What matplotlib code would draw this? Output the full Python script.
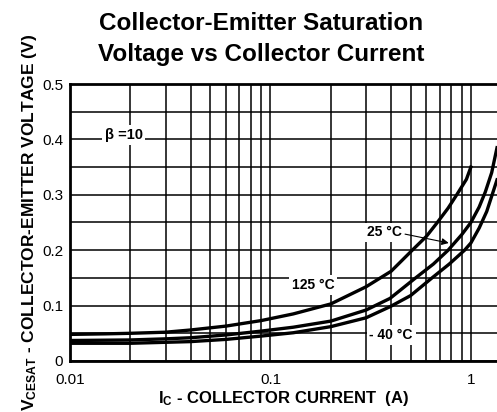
import numpy as np
import matplotlib
matplotlib.use("Agg")
import matplotlib.pyplot as plt
from matplotlib.ticker import FixedLocator, FixedFormatter, MultipleLocator, NullFormatter, LogLocator

plt.rcParams['font.family'] = ['Liberation Sans', 'DejaVu Sans']
plt.rcParams['mathtext.fontset'] = 'custom'
plt.rcParams['mathtext.bf'] = 'Liberation Sans:bold'
plt.rcParams['mathtext.rm'] = 'Liberation Sans:bold'
plt.rcParams['mathtext.default'] = 'bf'

# Data
ic_125 = [0.01, 0.015, 0.02, 0.03, 0.04, 0.06, 0.09, 0.13, 0.2, 0.3, 0.4, 0.51, 0.6, 0.68, 0.77, 0.85, 0.95, 1.0]
v_125 = [0.048, 0.049, 0.050, 0.052, 0.056, 0.063, 0.073, 0.085, 0.103, 0.134, 0.162, 0.200, 0.225, 0.250, 0.276, 0.300, 0.328, 0.350]

ic_25 = [0.01, 0.02, 0.03, 0.04, 0.06, 0.09, 0.13, 0.2, 0.3, 0.395, 0.53, 0.65, 0.77, 0.9, 1.0, 1.1, 1.18, 1.27, 1.35]
v_25 = [0.037, 0.038, 0.040, 0.042, 0.047, 0.054, 0.061, 0.072, 0.092, 0.113, 0.150, 0.175, 0.200, 0.228, 0.250, 0.278, 0.305, 0.340, 0.385]

ic_m40 = [0.01, 0.02, 0.04, 0.06, 0.09, 0.13, 0.2, 0.3, 0.395, 0.5, 0.64, 0.78, 0.93, 1.0, 1.1, 1.2, 1.35]
v_m40 = [0.032, 0.032, 0.035, 0.039, 0.045, 0.051, 0.062, 0.078, 0.098, 0.118, 0.150, 0.175, 0.200, 0.213, 0.240, 0.270, 0.327]

x_ticks = [0.01, 0.1, 1]
x_ticklabels = ['0.01', '0.1', '1']
y_ticks = [0, 0.1, 0.2, 0.3, 0.4, 0.5]
y_ticklabels = ['0', '0.1', '0.2', '0.3', '0.4', '0.5']

fig = plt.figure(figsize=(4.97, 4.12), dpi=100)
ax = fig.add_axes([70/497, 1-361/412, 1-70/497, (361-84)/412])

ax.set_xscale('log')
ax.set_xlim(0.01, 1.35)
ax.set_ylim(0, 0.5)

ax.xaxis.set_major_locator(FixedLocator(x_ticks))
ax.xaxis.set_major_formatter(FixedFormatter(x_ticklabels))
ax.xaxis.set_minor_locator(LogLocator(base=10, subs=np.arange(2, 10)))
ax.xaxis.set_minor_formatter(NullFormatter())
ax.yaxis.set_major_locator(FixedLocator(y_ticks))
ax.yaxis.set_major_formatter(FixedFormatter(y_ticklabels))
ax.yaxis.set_minor_locator(MultipleLocator(0.05))

ax.grid(which='both', color='black', linewidth=1.1)
ax.set_axisbelow(True)
ax.tick_params(which='both', length=0, labelsize=11)
ax.tick_params(axis='x', pad=9)
ax.tick_params(axis='y', pad=5)

for s in ['left', 'bottom', 'top']:
    ax.spines[s].set_linewidth(2)
ax.spines['right'].set_visible(False)

lw = 2.4
ax.plot(ic_125, v_125, color='black', lw=lw, zorder=3, solid_joinstyle='round')
ax.plot(ic_25, v_25, color='black', lw=lw, zorder=3, solid_joinstyle='round')
ax.plot(ic_m40, v_m40, color='black', lw=lw, zorder=3, solid_joinstyle='round')

box = dict(facecolor='white', edgecolor='none', pad=2)
ax.text(0.0185, 0.408, r'β =10', fontsize=10.5, fontweight='bold', ha='center', va='center', bbox=box, zorder=4)
ax.text(0.163, 0.137, '125 °C', fontsize=10, fontweight='bold', ha='center', va='center', bbox=box, zorder=4)
ax.text(0.37, 0.232, '25 °C', fontsize=10, fontweight='bold', ha='center', va='center', bbox=box, zorder=4)
ax.text(0.40, 0.047, '- 40 °C', fontsize=10, fontweight='bold', ha='center', va='center', bbox=box, zorder=4)
ax.annotate('', xy=(0.80, 0.212), xytext=(0.455, 0.230),
            arrowprops=dict(arrowstyle='-|>', color='black', lw=0.8, mutation_scale=10), zorder=5)

ax.set_xlabel(r'I$_{C}$ - COLLECTOR CURRENT  (A)', fontsize=12, fontweight='bold', labelpad=1)
ax.set_ylabel(r'V$_{CESAT}$ - COLLECTOR-EMITTER VOLTAGE (V)', fontsize=12.5, fontweight='bold', labelpad=2)

fig.text(0.525, 0.905, 'Collector-Emitter Saturation\nVoltage vs Collector Current', fontsize=17.5,
         fontweight='bold', ha='center', va='center', linespacing=1.45)

fig.savefig('out.png', dpi=100)
